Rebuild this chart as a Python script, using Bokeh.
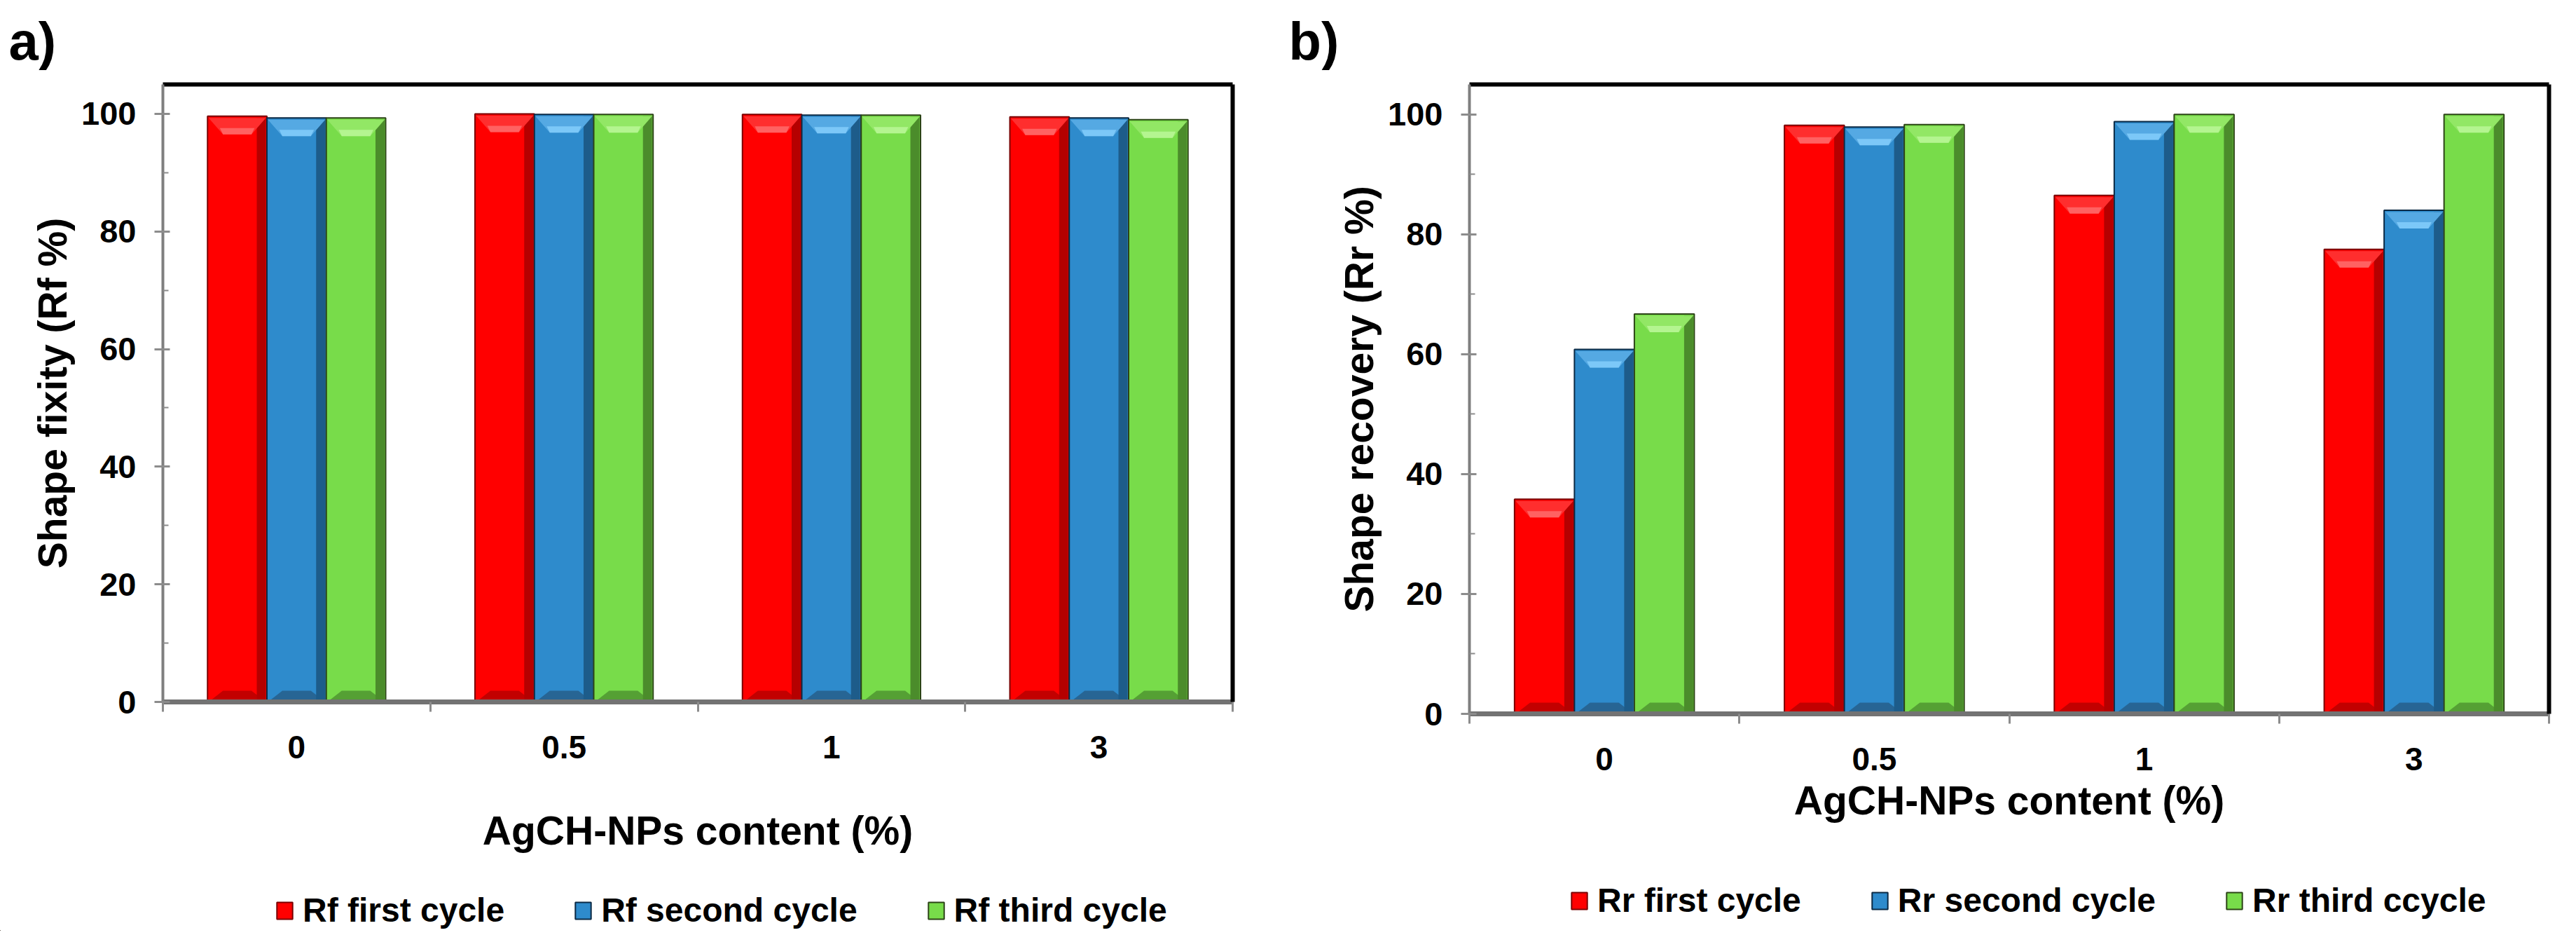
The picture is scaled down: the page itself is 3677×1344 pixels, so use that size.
import numpy as np
from bokeh.plotting import figure
from bokeh.models import (ColumnDataSource, Range1d, LinearAxis, FixedTicker,
                          SingleIntervalTicker, Legend, LegendItem, Label)
from bokeh.layouts import row, column
from bokeh.embed import file_html
from bokeh.resources import INLINE

# ---------------- data ----------------
categories = ["0", "0.5", "1", "3"]

rf_first = [99.6, 100.0, 99.9, 99.5]
rf_second = [99.3, 99.9, 99.8, 99.3]
rf_third = [99.3, 99.9, 99.8, 99.0]

rr_first = [35.8, 98.2, 86.5, 77.5]
rr_second = [60.8, 97.9, 98.8, 84.0]
rr_third = [66.7, 98.3, 100.0, 100.0]

names_a = ["Rf first cycle", "Rf second cycle", "Rf third cycle"]
names_b = ["Rr first cycle", "Rr second cycle", "Rr third ccycle"]
tags = ["a)", "b)"]

y_ticks_interval = 20
y_max = 105

FONT = "Liberation Sans"
PAGE_W = 3661
TOP_H = 100
MAIN_H = 1140
LEG_H = 88

PALETTE = [
    dict(body="#FF0000", side="#B50000", edge="#7A0000", hi="#FF2E2E", hi2="#FF6262", low="#C20000"),
    dict(body="#2E8BCC", side="#1D5C8A", edge="#0B2A45", hi="#55A9E3", hi2="#7CC8F8", low="#276594"),
    dict(body="#78DC4A", side="#4B8C2B", edge="#2C4417", hi="#92E765", hi2="#B4F590", low="#55A034"),
]


def strip(height):
    s = figure(frame_width=PAGE_W, frame_height=height, min_border=0,
               x_range=Range1d(0, PAGE_W), y_range=Range1d(0, height),
               x_axis_type=None, y_axis_type=None, title=None,
               output_backend="svg", toolbar_location=None, tools="")
    s.outline_line_color = None
    s.xgrid.visible = False
    s.ygrid.visible = False
    s.background_fill_color = "white"
    s.border_fill_color = "white"
    return s


def make_panel(series, ylabel, fw, fh, bl, br, bt, bb, xlab_standoff):
    ncat = len(categories)
    p = figure(frame_width=fw, frame_height=fh,
               min_border_left=bl, min_border_right=br,
               min_border_top=bt, min_border_bottom=bb,
               x_range=Range1d(0, ncat), y_range=Range1d(0, y_max), title=None,
               output_backend="svg", toolbar_location=None, tools="")
    p.outline_line_color = None
    p.xgrid.visible = False
    p.ygrid.visible = False
    p.background_fill_color = "white"
    p.border_fill_color = "white"

    n = len(series)
    w = 0.222
    px_y = fh / y_max
    px_x = fw / ncat
    xc = np.arange(ncat) + 0.5

    for i, vals in enumerate(series):
        c = PALETTE[i]
        off = (i - (n - 1) / 2) * w
        x = xc + off
        v = np.array(vals, dtype=float)
        src = ColumnDataSource(dict(x=x, top=v))
        p.vbar(x="x", top="top", bottom=0, width=w, source=src,
               fill_color=c["body"], line_color=c["edge"], line_width=2)
        ins = 0.26 * w
        # bottom bevel
        d_low = 16 / px_y
        xs = [[xi - w / 2 + 1.5 / px_x, xi + w / 2 - 1.5 / px_x, xi + w / 2 - ins, xi - w / 2 + ins] for xi in x]
        ys = [[0, 0, d_low, d_low] for _ in v]
        p.patches(xs, ys, fill_color=c["low"], line_color=None)
        # right shading strip
        sw = 13 / px_x
        p.vbar(x=x + w / 2 - sw / 2 - 1.5 / px_x, top=v - 2.5 / px_y, bottom=1 / px_y,
               width=sw, fill_color=c["side"], line_color=None)
        # top bevel
        d = 26 / px_y
        xs = [[xi - w / 2 + 1.5 / px_x, xi + w / 2 - 1.5 / px_x, xi + w / 2 - ins, xi - w / 2 + ins] for xi in x]
        ys = [[vi - 2.5 / px_y, vi - 2.5 / px_y, vi - d, vi - d] for vi in v]
        p.patches(xs, ys, fill_color=c["hi"], line_color=None)
        d2 = 9 / px_y
        xs = [[xi - w / 2 + ins * 0.8, xi + w / 2 - ins * 0.8, xi + w / 2 - ins, xi - w / 2 + ins] for xi in x]
        ys = [[vi - d + d2, vi - d + d2, vi - d, vi - d] for vi in v]
        p.patches(xs, ys, fill_color=c["hi2"], line_color=None)

    # y axis
    yax = p.yaxis[0]
    yax.ticker = SingleIntervalTicker(interval=y_ticks_interval, num_minor_ticks=2)
    yax.axis_label = ylabel
    yax.axis_label_text_font = FONT
    yax.axis_label_text_font_size = "57px"
    yax.axis_label_text_font_style = "bold"
    yax.axis_label_text_color = "black"
    yax.axis_label_standoff = 6
    yax.major_label_text_font = FONT
    yax.major_label_text_font_size = "47px"
    yax.major_label_text_font_style = "bold"
    yax.major_label_text_color = "black"
    yax.major_label_standoff = 26
    yax.axis_line_color = "#7F7F7F"
    yax.axis_line_width = 4
    yax.major_tick_in = 10
    yax.major_tick_out = 12
    yax.major_tick_line_color = "#8C8C8C"
    yax.major_tick_line_width = 3
    yax.minor_tick_in = 8
    yax.minor_tick_out = 0
    yax.minor_tick_line_color = "#8C8C8C"
    yax.minor_tick_line_width = 2

    # x axis (category boundaries as ticks, labels at centres)
    xax = p.xaxis[0]
    xax.ticker = FixedTicker(ticks=[float(t) for t in xc],
                             minor_ticks=[float(t) for t in range(ncat + 1)])
    xax.major_label_overrides = {float(t): lab for t, lab in zip(xc, categories)}
    xax.major_tick_line_color = None
    xax.major_tick_out = 14
    xax.major_tick_in = 0
    xax.minor_tick_line_color = "#8C8C8C"
    xax.minor_tick_line_width = 3
    xax.minor_tick_out = 14
    xax.minor_tick_in = 0
    xax.axis_line_color = "#737373"
    xax.axis_line_width = 7
    xax.major_label_text_font = FONT
    xax.major_label_text_font_size = "46px"
    xax.major_label_text_font_style = "bold"
    xax.major_label_text_color = "black"
    xax.major_label_standoff = 34
    xax.axis_label = "AgCH-NPs content (%)"
    xax.axis_label_text_font = FONT
    xax.axis_label_text_font_size = "57px"
    xax.axis_label_text_font_style = "bold"
    xax.axis_label_text_color = "black"
    xax.axis_label_standoff = xlab_standoff

    # black frame on top and right
    for side in ("above", "right"):
        ax = LinearAxis(ticker=FixedTicker(ticks=[]), axis_line_color="black",
                        axis_line_width=6, major_tick_out=0, major_tick_in=0,
                        minor_tick_out=0, minor_tick_in=0,
                        major_label_text_font_size="0px", major_label_standoff=0)
        p.add_layout(ax, side)
    return p


# main panels (frame positions in page pixels: a 232..1759 x 120..1001, b 2097..3638 x 107..1005)
pa = make_panel([rf_first, rf_second, rf_third], "Shape fixity (Rf %)",
                fw=1527, fh=881, bl=232, br=41, bt=120 - TOP_H, bb=MAIN_H - (120 - TOP_H) - 881,
                xlab_standoff=68)
pb = make_panel([rr_first, rr_second, rr_third], "Shape recovery (Rr %)",
                fw=1541, fh=898, bl=297, br=23, bt=107 - TOP_H, bb=MAIN_H - (107 - TOP_H) - 898,
                xlab_standoff=8)

# top strip with panel tags
top = strip(TOP_H)
for tag, tx in zip(tags, [12, 1839]):
    top.add_layout(Label(x=tx, y=TOP_H - 58, text=tag, text_font=FONT, text_font_size="76px",
                         text_font_style="bold", text_baseline="alphabetic", text_align="left",
                         text_color="black"))

# bottom strip with the two legends (legend swatches use far off-screen proxy glyphs)
leg = strip(LEG_H)
for names, lx, ly in [(names_a, 392, 2), (names_b, 2240, 16)]:
    items = []
    for i, nm in enumerate(names):
        c = PALETTE[i]
        r = leg.vbar(x=[-5000.0], top=[-5000.0], bottom=[-5001.0], width=1,
                     fill_color=c["body"], line_color=c["edge"], line_width=2)
        items.append(LegendItem(label=nm, renderers=[r]))
    lg = Legend(items=items, location=(lx, ly), orientation="horizontal",
                glyph_width=28, glyph_height=30, label_standoff=12, spacing=98,
                padding=0, margin=0, border_line_color=None, background_fill_alpha=0,
                label_text_font=FONT, label_text_font_size="48px",
                label_text_font_style="bold", label_text_color="black")
    leg.add_layout(lg)

layout = column(top, row(pa, pb), leg)
open("out.html", "w").write(file_html(layout, INLINE))
